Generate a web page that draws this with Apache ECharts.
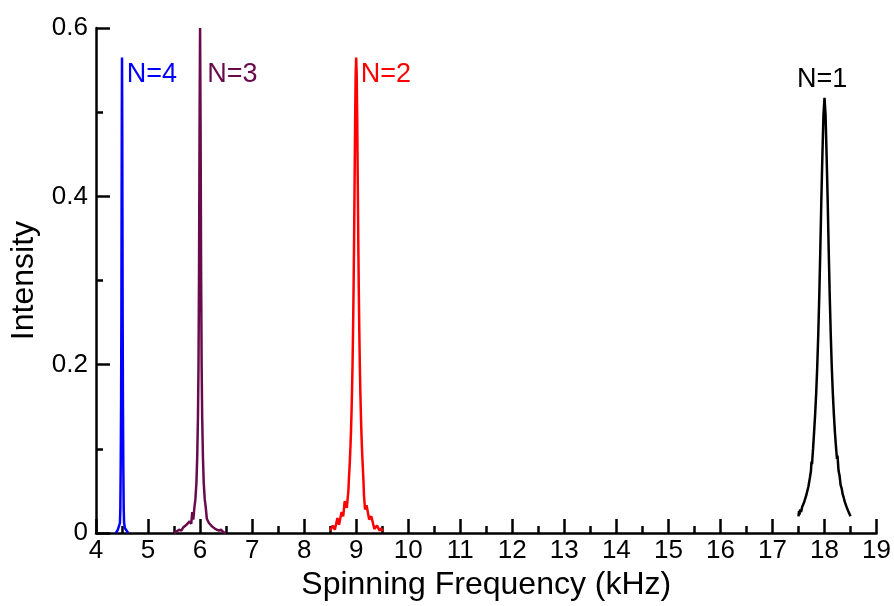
<!DOCTYPE html>
<html>
<head>
<meta charset="utf-8">
<script src="https://cdn.jsdelivr.net/npm/echarts@6/dist/echarts.min.js"></script>
<style>
  html, body { margin: 0; padding: 0; background: #fff; }
  #chart { width: 894px; height: 606px; }
</style>
</head>
<body>
<div id="chart"></div>
<script>
// Spectra of the spinning-frequency peaks, [frequency kHz, intensity]
const peakN1 = [
  [17.50,0.020],[17.51,0.026],[17.52,0.022],[17.53,0.028],[17.55,0.025],[17.57,0.031],
  [17.59,0.030],[17.61,0.037],[17.63,0.036],[17.65,0.045],[17.67,0.046],[17.69,0.055],
  [17.72,0.066],[17.74,0.074],[17.75,0.085],[17.76,0.082],[17.78,0.100],[17.80,0.120],
  [17.82,0.141],[17.84,0.166],[17.86,0.197],[17.88,0.236],[17.90,0.283],[17.92,0.338],
  [17.94,0.398],[17.96,0.450],[17.98,0.497],[18.00,0.517],
  [18.02,0.497],[18.04,0.450],[18.06,0.398],[18.08,0.338],[18.10,0.283],[18.12,0.236],
  [18.14,0.197],[18.16,0.166],[18.18,0.141],[18.20,0.120],[18.22,0.103],[18.24,0.088],
  [18.25,0.092],[18.27,0.074],[18.29,0.068],[18.31,0.057],[18.33,0.053],[18.35,0.046],
  [18.37,0.042],[18.39,0.037],[18.41,0.036],[18.43,0.030],[18.45,0.029],[18.47,0.024],
  [18.48,0.026],[18.50,0.020]
];
const peakN2 = [
  [8.50,0.003],[8.55,0.009],[8.59,0.004],[8.64,0.018],[8.67,0.010],[8.72,0.025],
  [8.75,0.020],[8.78,0.038],[8.82,0.030],[8.85,0.050],[8.86,0.064],[8.87,0.075],
  [8.88,0.088],[8.89,0.103],[8.90,0.120],[8.91,0.142],[8.92,0.168],[8.93,0.200],
  [8.94,0.240],[8.95,0.290],[8.96,0.350],[8.97,0.420],[8.98,0.490],[8.99,0.545],
  [9.00,0.565],
  [9.01,0.545],[9.02,0.490],[9.03,0.420],[9.04,0.350],[9.05,0.290],[9.06,0.240],
  [9.07,0.200],[9.08,0.168],[9.09,0.142],[9.10,0.120],[9.11,0.103],[9.12,0.088],
  [9.13,0.075],[9.14,0.062],[9.15,0.045],[9.17,0.028],[9.20,0.033],[9.25,0.016],
  [9.29,0.020],[9.35,0.005],[9.40,0.009],[9.45,0.003],[9.48,0.006],[9.50,0.002]
];
const peakN3 = [
  [5.50,0.000],[5.55,0.002],[5.60,0.004],[5.64,0.003],[5.68,0.007],[5.71,0.005],
  [5.74,0.010],[5.77,0.008],[5.80,0.014],[5.83,0.011],[5.85,0.025],[5.87,0.016],
  [5.89,0.030],[5.91,0.040],[5.93,0.060],[5.945,0.090],[5.96,0.140],[5.97,0.200],
  [5.98,0.310],[5.99,0.480],[6.00,0.600],
  [6.01,0.480],[6.02,0.310],[6.03,0.200],[6.04,0.140],[6.055,0.090],[6.07,0.060],
  [6.09,0.040],[6.11,0.030],[6.13,0.017],[6.15,0.019],[6.17,0.012],[6.20,0.014],
  [6.23,0.008],[6.26,0.010],[6.29,0.005],[6.32,0.007],[6.36,0.003],[6.40,0.004],
  [6.45,0.001],[6.50,0.000]
];
const peakN4 = [
  [4.38,0.000],[4.42,0.004],[4.445,0.006],[4.46,0.012],[4.468,0.030],[4.475,0.080],
  [4.482,0.150],[4.488,0.260],[4.492,0.380],[4.496,0.490],[4.500,0.565],
  [4.504,0.490],[4.508,0.380],[4.512,0.260],[4.518,0.150],[4.525,0.080],[4.532,0.030],
  [4.54,0.012],[4.555,0.006],[4.58,0.004],[4.62,0.000]
];

// Peak annotations: text, colour, anchor [kHz, intensity]
const peakNames = ['N=1', 'N=2', 'N=3', 'N=4'];
const peakColors = ['#000000', '#ff0000', '#690b4b', '#0000ff'];
const labelAnchors = [[17.46, 0.539], [9.08, 0.545], [6.13, 0.545], [4.58, 0.545]];
const peakData = [peakN1, peakN2, peakN3, peakN4];

const FONT = 'Liberation Sans, Arial, Helvetica, sans-serif';

const chart = echarts.init(document.getElementById('chart'), null, { renderer: 'canvas' });

const axisCommon = {
  axisLine: { show: true, lineStyle: { color: '#000', width: 2.5 } },
  axisTick: { show: true, inside: true, length: 14, lineStyle: { color: '#000', width: 2.5 } },
  minorTick: { show: true, splitNumber: 2, length: 7, lineStyle: { color: '#000', width: 2.5 } },
  splitLine: { show: false },
  nameLocation: 'middle'
};

chart.setOption({
  backgroundColor: '#fff',
  animation: false,
  grid: { left: 94.5, right: 15.5, top: 28, bottom: 65, containLabel: false },
  xAxis: Object.assign({}, axisCommon, {
    type: 'value', min: 4, max: 19, interval: 1,
    name: 'Spinning Frequency (kHz)', nameGap: 26,
    nameTextStyle: { fontSize: 32, color: '#000', fontFamily: FONT },
    axisLabel: { fontSize: 26, color: '#000', margin: 5, fontFamily: FONT }
  }),
  yAxis: Object.assign({}, axisCommon, {
    type: 'value', min: 0, max: 0.6, interval: 0.2,
    name: 'Intensity', nameGap: 56,
    nameTextStyle: { fontSize: 32, color: '#000', fontFamily: FONT },
    axisLabel: { fontSize: 26, color: '#000', margin: 8, fontFamily: FONT }
  }),
  series: peakData.map((d, i) => ({
    type: 'line',
    name: peakNames[i],
    data: d,
    showSymbol: false,
    symbol: 'none',
    lineStyle: { color: peakColors[i], width: 2.5 },
    itemStyle: { color: peakColors[i] },
    z: 2 + i,
    markPoint: {
      symbol: 'circle',
      symbolSize: 1,
      itemStyle: { color: 'rgba(0,0,0,0)' },
      label: {
        show: true, position: 'right', distance: 0,
        formatter: peakNames[i],
        color: peakColors[i], fontSize: 27, fontFamily: FONT
      },
      data: [{ coord: labelAnchors[i] }]
    }
  }))
});
</script>
</body>
</html>
